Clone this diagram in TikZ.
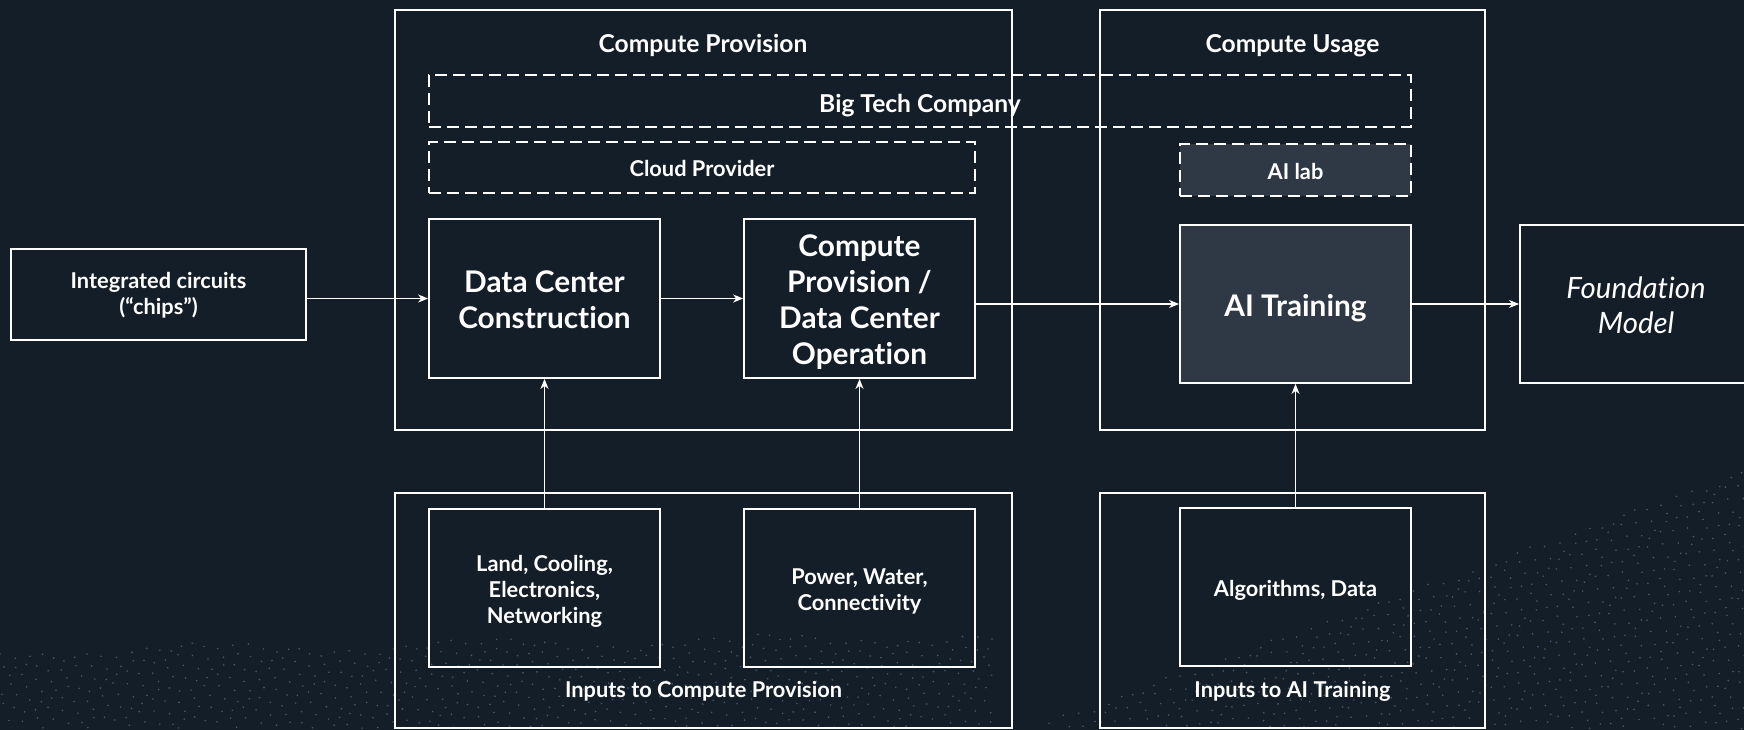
\documentclass[tikz,border=0pt]{standalone}
\usepackage{fontspec}
\setmainfont{Lato}[Ligatures=NoCommon]
\usetikzlibrary{arrows.meta}
\definecolor{bg}{HTML}{131E29}
\definecolor{aifill}{HTML}{2E3945}
\definecolor{dotc}{HTML}{7D8FB5}
\tikzset{
  box/.style={draw=white, line width=1.8pt, inner sep=0pt},
  dbox/.style={box, dash pattern=on 12pt off 6pt},
  sz/.style 2 args={minimum width=#1pt, minimum height=#2pt},
  lbl/.style={text=white, align=center, inner sep=0pt},
  bigtxt/.style={lbl, font=\fontsize{29.8}{36}\selectfont\bfseries},
  medtxt/.style={lbl, font=\fontsize{21.8}{26}\selectfont\bfseries},
  ttltxt/.style={lbl, font=\fontsize{24.6}{29}\selectfont\bfseries},
  ittxt/.style={lbl, font=\fontsize{29.4}{35}\selectfont\itshape},
  arr/.style={draw=white, line width=1.4pt, -{Stealth[length=10pt,width=8pt,inset=3pt]}}
}
\begin{document}
\begin{tikzpicture}[x=1pt,y=-1pt]
\fill[bg] (0,0) rectangle (1744,730);
\useasboundingbox (0,0) rectangle (1744,730);
% dotted wave background
\begin{scope}[fill=dotc, opacity=0.5]
\foreach \x in {0,13,...,1744}{
  \pgfmathsetmacro{\yt}{(\x<1000) ? (654-0.016*\x+5*sin(\x*1.3)) : (760-0.36*(\x-950))}
  \foreach \j in {0,...,24}{
    \pgfmathsetmacro{\yy}{\yt+\j*10.5+3*sin(\x*7+\j*53)}
    \pgfmathsetmacro{\xx}{\x+4*sin(\j*97+\x*3)}
    \ifdim \yy pt<729pt \fill (\xx,\yy) circle (0.9pt); \fi
  }
}
\end{scope}
% containers
\node[box, sz={617}{420}] (cp) at (703.5,220) {};
\node[box, sz={385}{420}] (cu) at (1292.5,220) {};
\node[box, sz={617}{235}] (icp) at (703.5,610.5) {};
\node[box, sz={385}{235}] (iai) at (1292.5,610.5) {};
\node[ttltxt, anchor=base] (cpt) at (703,52.5) {Compute Provision};
\node[ttltxt, anchor=base] (cut) at (1292.5,52.5) {Compute Usage};
\node[medtxt, anchor=base] (icpt) at (703.5,697) {Inputs to Compute Provision};
\node[medtxt, anchor=base] (iait) at (1292.5,697) {Inputs to AI Training};
% dashed organisational boxes
\node[dbox, sz={982}{52}] (btc) at (920,101) {};
\node[dbox, sz={546}{51}] (cloud) at (702,167.5) {};
\node[dbox, sz={231}{52}, fill=aifill] (lab) at (1295.5,170) {};
\node[ttltxt, yshift=-4.4pt] (btct) at (btc) {Big Tech Company};
\node[medtxt, yshift=-1pt] (cloudt) at (cloud) {Cloud Provider};
\node[medtxt, yshift=-1pt] (labt) at (lab) {AI lab};
% main boxes
\node[box, sz={295}{91}] (chips) at (158.5,294.5) {};
\node[box, sz={231}{159}] (dcc) at (544.5,298.5) {};
\node[box, sz={231}{159}] (cpo) at (859.5,298.5) {};
\node[box, sz={231}{158}, fill=aifill] (ait) at (1295.5,304) {};
\node[box, sz={232}{158}] (fm) at (1636,304) {};
\node[box, sz={231}{158}] (land) at (544.5,588) {};
\node[box, sz={231}{158}] (power) at (859.5,588) {};
\node[box, sz={231}{158}] (algo) at (1295.5,587) {};
\node[medtxt, yshift=-1pt] (chipst) at (chips) {Integrated circuits\\(“chips”)};
\node[bigtxt, yshift=-1pt] (dcct) at (dcc) {Data Center\\Construction};
\node[bigtxt, yshift=-3.3pt] (cpot) at (cpo) {Compute\\Provision /\\Data Center\\Operation};
\node[bigtxt, yshift=-4.4pt] (aitt) at (ait) {AI Training};
\node[ittxt, yshift=-1.5pt] (fmt) at (fm) {Foundation\\Model};
\node[medtxt, yshift=-3.3pt] (landt) at (land) {Land, Cooling,\\Electronics,\\Networking};
\node[medtxt, yshift=-3.3pt] (powert) at (power) {Power, Water,\\Connectivity};
\node[medtxt, yshift=-3.3pt] (algot) at (algo) {Algorithms, Data};
% connectors
\draw[arr] (chips.east |- dcc.west) -- (dcc.west);
\draw[arr] (dcc.east) -- (cpo.west);
\draw[arr] (cpo.east |- ait.west) -- (ait.west);
\draw[arr] (ait.east) -- (fm.west);
\draw[arr] (land.north) -- (dcc.south);
\draw[arr] (power.north) -- (cpo.south);
\draw[arr] (algo.north) -- (ait.south);
\end{tikzpicture}
\end{document}
